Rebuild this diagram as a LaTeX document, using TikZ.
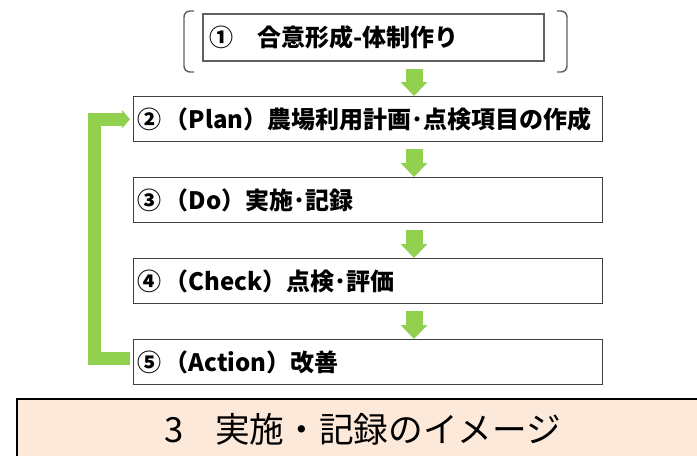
\documentclass[tikz,border=0pt]{standalone}
\usepackage{fontspec}
\newfontfamily\jp{Noto Sans CJK JP}
\usetikzlibrary{arrows.meta}
\definecolor{grn}{HTML}{92D050}
\definecolor{boxgray}{HTML}{404040}
\definecolor{peach}{HTML}{FDE9D9}
\definecolor{brgray}{HTML}{606060}
\newcommand\cgap{\hspace{0.12em}}
\begin{document}
\begin{tikzpicture}[x=0.75pt,y=-0.75pt,
  stepbox/.style={draw=boxgray, line width=1.1pt, fill=white, anchor=north west,
    minimum height=33.75pt, text width=345.75pt, inner xsep=3pt, align=left,
    font=\jp\bfseries\fontsize{18}{21}\selectfont},
  firstbox/.style={stepbox, draw=brgray, line width=1.8pt, minimum height=35.25pt,
    text width=246.75pt, inner xsep=4.5pt},
  titlebox/.style={draw=black, line width=1.5pt, fill=peach, anchor=north west,
    minimum width=519pt, minimum height=45pt, inner sep=0pt,
    font=\jp\fontsize{26}{31}\selectfont},
  bracket/.style={draw=brgray, line width=1.1pt, rounded corners=4.5pt},
  down/.style={draw=grn, line width=12.75pt, -{Triangle[length=10.5pt,width=19.5pt]},
    shorten <=5.25pt},
  fb/.style={draw=grn, line width=9.75pt, line join=miter,
    -{Triangle[length=6pt,width=13.5pt]}, shorten >=2.25pt, shorten <=2.25pt}
]
\useasboundingbox (0,0) rectangle (697,455);
\clip (0,0) rectangle (697,455);

\node[titlebox] (title) at (16,398) {3\hspace{0.9em}実施・記録のイメージ};

\draw[bracket] (194,11) -| (184,72) -- (194,72);
\draw[bracket] (557,11) -| (567,72) -- (557,72);

\node[firstbox] (b1) at (202,13) {①　合意形成-体制作り};
\node[stepbox] (b2) at (133,96) {②\cgap（Plan）農場利用計画･点検項目の作成};
\node[stepbox] (b3) at (133,177) {③\cgap（Do）実施･記録};
\node[stepbox] (b4) at (133,258) {④\cgap（Check）点検･評価};
\node[stepbox] (b5) at (133,339) {⑤\cgap（Action）改善};

\coordinate (ax) at (414,0);
\draw[down] (b1.south -| ax) -- (b2.north -| ax);
\draw[down] (b2.south -| ax) -- (b3.north -| ax);
\draw[down] (b3.south -| ax) -- (b4.north -| ax);
\draw[down] (b4.south -| ax) -- (b5.north -| ax);

\draw[fb] ([yshift=2.6pt]b5.west) -- ++(-38.5,0) |- (b2.west);
\end{tikzpicture}
\end{document}
